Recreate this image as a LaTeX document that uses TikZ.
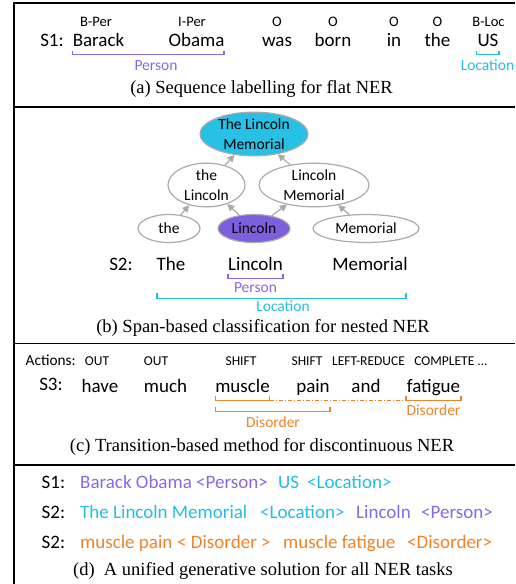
\documentclass[tikz,border=0pt]{standalone}
\usepackage{fontspec}
\setmainfont{Carlito}
\newfontfamily\capfont{Liberation Serif}
\usetikzlibrary{arrows.meta,shapes.geometric}
\definecolor{cpurple}{RGB}{135,105,230}
\definecolor{ccyan}{RGB}{35,190,230}
\definecolor{corange}{RGB}{240,130,40}
\definecolor{efill}{RGB}{40,192,228}
\definecolor{pfill}{RGB}{125,95,222}
\definecolor{egray}{RGB}{170,170,170}
\begin{document}
\begin{tikzpicture}[x=1pt,y=-1pt,
  frame/.style={line width=1.6pt},
  tagtxt/.style={anchor=base,font=\fontsize{14.5}{16}\selectfont,inner sep=0pt},
  acttag/.style={anchor=base,font=\fontsize{13.5}{15}\selectfont,inner sep=0pt},
  word/.style={anchor=base,font=\fontsize{19}{22}\selectfont,inner sep=0pt},
  lbl/.style={anchor=base,font=\fontsize{15.5}{17}\selectfont,inner sep=0pt},
  captxt/.style={anchor=base,font=\capfont\fontsize{18.5}{20}\selectfont,inner sep=0pt},
  ell/.style={ellipse,draw=egray,line width=1.2pt,inner sep=0pt,align=center,font=\fontsize{15.5}{20}\selectfont},
  arr/.style={draw=egray,line width=1.2pt,-{Triangle[length=7pt,width=7pt]}},
  brk/.style={line width=1.2pt},
  gen/.style={anchor=base west,font=\fontsize{19}{22}\selectfont,inner sep=0pt},
]
\useasboundingbox (0,0) rectangle (515,584);
% frame
\draw[frame] (515,2.7) -- (14,2.7) -- (14,584);
\draw[frame] (14,107) -- (515,107);
\draw[frame] (14,343.3) -- (515,343.3);
\draw[frame] (14,465) -- (515,465);

% ---------- (a)
\node[tagtxt] (t1) at (96,26.7) {B-Per};
\node[tagtxt] (t2) at (192,26.7) {I-Per};
\node[tagtxt] (t3) at (277,26.7) {O};
\node[tagtxt] (t4) at (333,26.7) {O};
\node[tagtxt] (t5) at (394,26.7) {O};
\node[tagtxt] (t6) at (437.5,26.7) {O};
\node[tagtxt] (t7) at (488.5,26.7) {B-Loc};
\node[word] (s1) at (52,46) {S1:};
\node[word] (w1) at (98.5,46) {Barack};
\node[word] (w2) at (196.5,46) {Obama};
\node[word] (w3) at (277,46) {was};
\node[word] (w4) at (333,46) {born};
\node[word] (w5) at (394,46) {in};
\node[word] (w6) at (437.5,46) {the};
\node[word] (w7) at (488,46) {US};
\draw[brk,cpurple] (72.5,50.7) -- (72.5,54.3) -- (224,54.3) -- (224,50.7);
\draw[brk,ccyan] (476.5,50.7) -- (476.5,54.3) -- (499,54.3) -- (499,50.7);
\node[lbl,text=cpurple] (pa) at (156,70) {Person};
\node[lbl,text=ccyan] (la) at (487.5,70) {Location};
\node[captxt] (capa) at (261.5,93.3) {(a) Sequence labelling for flat NER};

% ---------- (b)
\node[ell,fill=efill,minimum width=108pt,minimum height=42pt] (top) at (254,134) {The Lincoln\\Memorial};
\node[ell,minimum width=77pt,minimum height=42pt] (tl) at (206.5,185) {the\\Lincoln};
\node[ell,minimum width=110pt,minimum height=42pt] (lm) at (314,185) {Lincoln\\Memorial};
\node[ell,minimum width=62pt,minimum height=28pt] (the) at (169,228.5) {the};
\node[ell,fill=pfill,minimum width=72pt,minimum height=28pt] (lin) at (254,228.5) {Lincoln};
\node[ell,minimum width=106pt,minimum height=28pt] (mem) at (366,228.5) {Memorial};
\draw[arr] (the) -- (tl);
\draw[arr] (lin) -- (tl);
\draw[arr] (lin) -- (lm);
\draw[arr] (mem) -- (lm);
\draw[arr] (tl) -- (top);
\draw[arr] (lm) -- (top);
\node[word] (s2) at (121,270) {S2:};
\node[word] (b1) at (171,270) {The};
\node[word] (b2) at (255.5,270) {Lincoln};
\node[word] (b3) at (370,270) {Memorial};
\draw[brk,cpurple] (228,273.5) -- (228,278.5) -- (283,278.5) -- (283,273.5);
\node[lbl,text=cpurple] (pb) at (255.5,292.7) {Person};
\draw[brk,ccyan] (157,293) -- (157,298.3) -- (406,298.3) -- (406,293);
\node[lbl,text=ccyan] (lb) at (283,311.7) {Location};
\node[captxt] (capb) at (263,332.3) {(b) Span-based classification for nested NER};

% ---------- (c)
\node[anchor=base west,font=\fontsize{15.3}{17}\selectfont,inner sep=0pt] (act) at (25.5,365) {Actions:};
\node[acttag] (a1) at (97,365.5) {OUT};
\node[acttag] (a2) at (156,365.5) {OUT};
\node[acttag] (a3) at (241,365.5) {SHIFT};
\node[acttag] (a4) at (307,365.5) {SHIFT};
\node[acttag] (a5) at (368.5,365.5) {LEFT-REDUCE};
\node[acttag] (a6) at (451,365.5) {COMPLETE ...};
\node[word] (s3) at (51,390.5) {S3:};
\node[word] (c1) at (100,392.3) {have};
\node[word] (c2) at (165.5,392.3) {much};
\node[word] (c3) at (242.5,392.3) {muscle};
\node[word] (c4) at (313,392.3) {pain};
\node[word] (c5) at (366,392.3) {and};
\node[word] (c6) at (433.5,392.3) {fatigue};
\draw[brk,corange] (215.5,395.5) -- (215.5,400.7) -- (269.5,400.7) -- (269.5,395.5);
\draw[line width=0.8pt,corange,dash pattern=on 4pt off 2pt on 1pt off 2pt] (269.5,400) -- (406,400);
\draw[brk,corange] (406,395.5) -- (406,400.7) -- (461,400.7) -- (461,395.5);
\node[lbl,text=corange] (d1) at (433.5,415) {Disorder};
\draw[brk,corange] (215.5,406.5) -- (215.5,411.7) -- (330,411.7) -- (330,406.5);
\node[lbl,text=corange] (d2) at (273,427) {Disorder};
\node[captxt] (capc) at (262,451.7) {(c) Transition-based method for discontinuous NER};

% ---------- (d)
\node[gen] (g1) at (41.5,488.3) {S1:};
\node[gen,text=cpurple] (g1a) at (80,488.3) {Barack Obama <Person>};
\node[gen,text=ccyan] (g1b) at (278,488.3) {US};
\node[gen,text=ccyan] (g1c) at (307,488.3) {<Location>};
\node[gen] (g2) at (41.5,518.3) {S2:};
\node[gen,text=ccyan] (g2a) at (80,518.3) {The Lincoln Memorial};
\node[gen,text=ccyan] (g2b) at (260,518.3) {<Location>};
\node[gen,text=cpurple] (g2c) at (356,518.3) {Lincoln};
\node[gen,text=cpurple] (g2d) at (421,518.3) {<Person>};
\node[gen] (g3) at (41.5,548.3) {S2:};
\node[gen,text=corange] (g3a) at (80,548.3) {muscle pain};
\node[gen,text=corange] (g3b) at (177,548.3) {< Disorder >};
\node[gen,text=corange] (g3c) at (283,548.3) {muscle fatigue};
\node[gen,text=corange] (g3d) at (407,548.3) {<Disorder>};
\node[captxt] (capd) at (263,575) {(d)\ \ A unified generative solution for all NER tasks};
\end{tikzpicture}
\end{document}
